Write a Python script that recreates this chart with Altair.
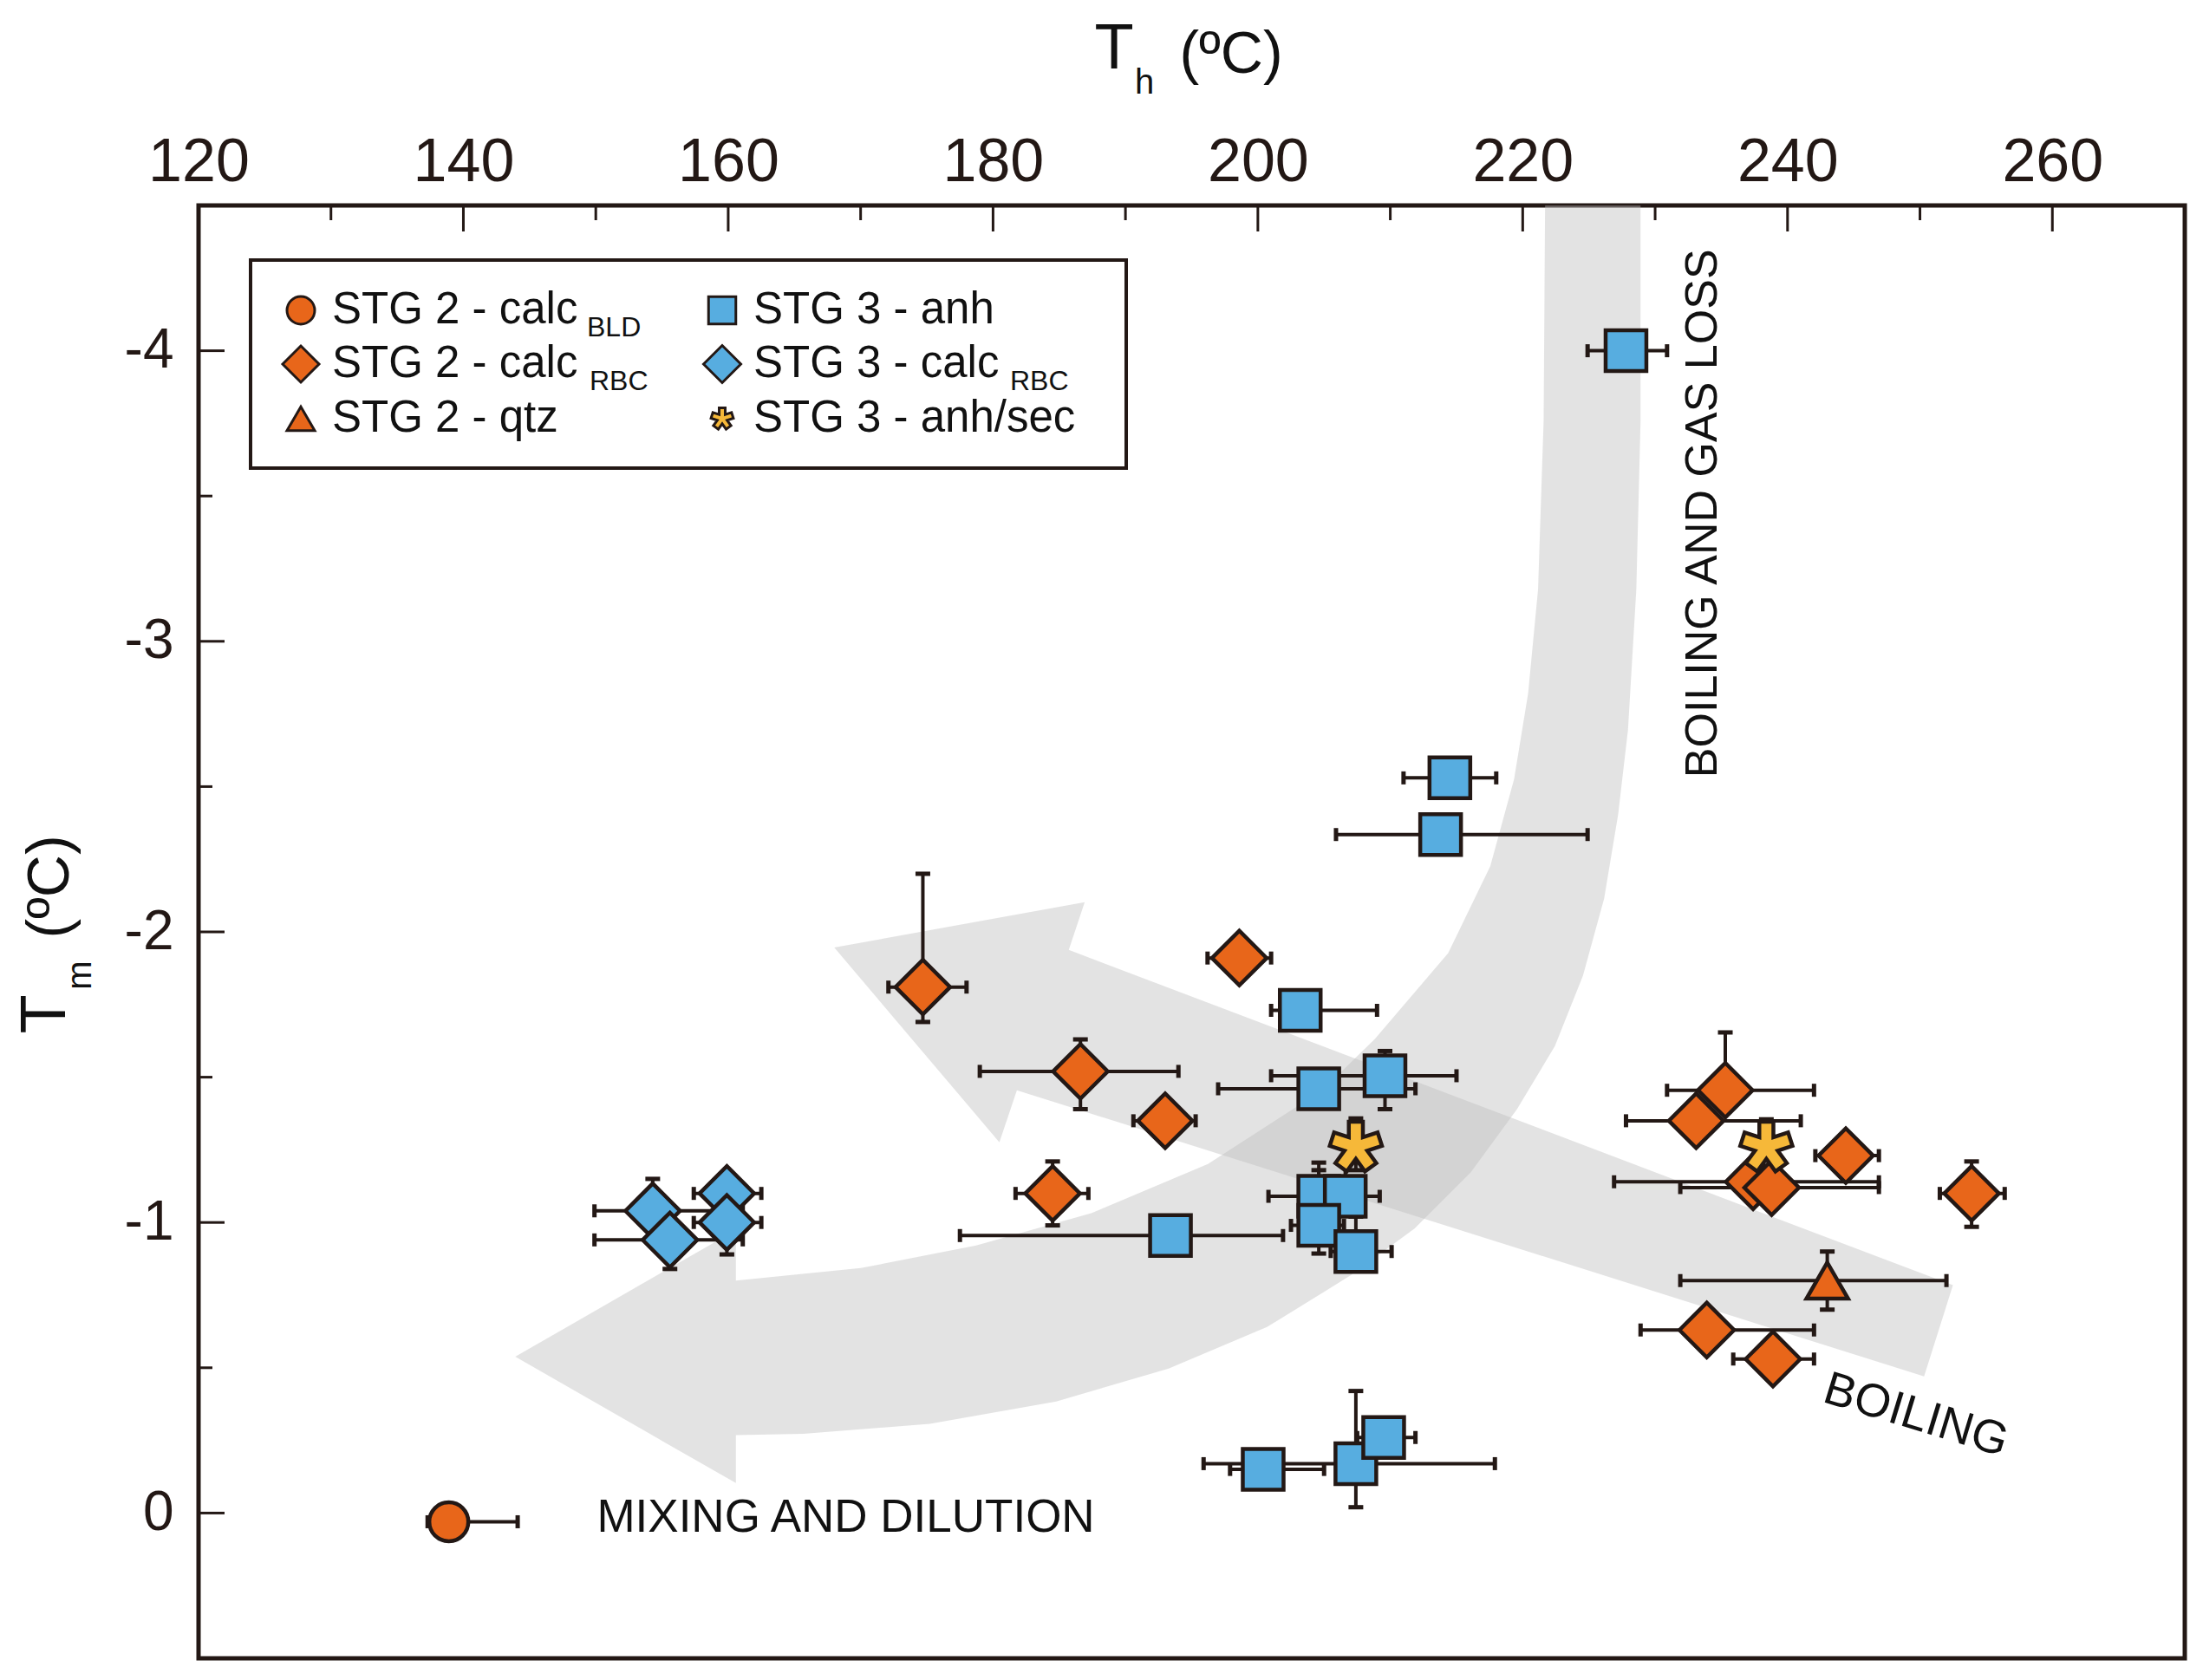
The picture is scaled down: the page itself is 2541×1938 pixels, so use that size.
import math
import altair as alt
import pandas as pd

FONT = "Liberation Sans"
DARK = "#231815"
ORANGE = "#E8661A"
BLUE = "#57ADE0"
GOLD = "#F6B839"
ARROW = "#bcbcbc"
nan = float("nan")

# ---------------- axis ticks ----------------
x_labels = [120, 140, 160, 180, 200, 220, 240, 260]
x_minor = [130, 150, 170, 190, 210, 230, 250]
y_labels = [-4, -3, -2, -1, 0]
y_minor = [-3.5, -2.5, -1.5, -0.5]

# ---------------- data (Th, Tm, error-bar ends) ----------------
# STG 2 - calc RBC (orange diamonds)
s2r_th    = [174.7, 186.6, 193.0, 198.6, 184.5, 235.3, 233.1, 237.4, 238.8, 244.4, 253.9, 233.9, 238.9]
s2r_tm    = [-1.81, -1.52, -1.35, -1.91, -1.10, -1.455, -1.35, -1.14, -1.12, -1.23, -1.10, -0.63, -0.53]
s2r_thlo  = [172.1, 179.0, 190.6, 196.2, 181.7, 230.9, 227.8, 226.9, 231.9, 242.1, 251.5, 228.9, 235.9]
s2r_thhi  = [178.0, 194.0, 195.3, 201.0, 187.2, 242.0, 241.0, 246.9, 246.9, 246.9, 256.4, 242.0, 242.0]
s2r_tmmin = [-2.20, -1.63, nan, nan, -1.21, -1.654, nan, nan, nan, nan, -1.21, nan, nan]
s2r_tmmax = [-1.69, -1.39, nan, nan, -0.99, nan, nan, nan, nan, nan, -0.985, nan, nan]

# STG 2 - qtz (orange triangle)
s2q_th, s2q_tm = [243.0], [-0.80]
s2q_thlo, s2q_thhi = [231.9], [252.0]
s2q_tmmin, s2q_tmmax = [-0.90], [-0.70]

# STG 2 - calc BLD (orange circle)
s2b_th, s2b_tm = [138.9], [0.03]
s2b_thlo, s2b_thhi = [137.3], [144.1]
s2b_tmmin, s2b_tmmax = [nan], [nan]

# STG 3 - anh (blue squares)
s3a_th    = [227.8, 214.5, 213.8, 203.2, 204.6, 209.6, 193.4, 204.6, 206.6, 204.6, 207.4, 200.4, 207.4, 209.5]
s3a_tm    = [-4.00, -2.53, -2.335, -1.73, -1.46, -1.505, -0.955, -1.09, -1.09, -0.99, -0.90, -0.15, -0.17, -0.26]
s3a_thlo  = [224.9, 211.0, 205.9, 201.0, 197.0, 201.0, 177.5, 200.8, 203.9, 202.5, 205.5, 197.9, 195.9, 207.5]
s3a_thhi  = [230.9, 218.0, 224.9, 209.0, 211.9, 215.0, 201.9, 207.5, 209.2, 206.5, 210.1, 205.0, 217.9, 211.9]
s3a_tmmin = [nan, nan, nan, nan, nan, -1.59, nan, -1.206, -1.276, -1.18, -1.02, nan, -0.42, nan]
s3a_tmmax = [nan, nan, nan, nan, nan, -1.39, nan, -0.943, nan, -0.893, nan, nan, -0.02, nan]

# STG 3 - calc RBC (blue diamonds)
s3r_th    = [154.3, 155.6, 159.9, 159.9]
s3r_tm    = [-1.04, -0.94, -1.10, -1.00]
s3r_thlo  = [149.9, 149.9, 157.4, 157.4]
s3r_thhi  = [161.1, 161.1, 162.5, 162.5]
s3r_tmmin = [-1.15, nan, nan, -1.10]
s3r_tmmax = [nan, -0.84, nan, -0.89]

# STG 3 - anh/sec (gold stars)
s3s_th, s3s_tm = [207.4, 238.4], [-1.26, -1.26]
s3s_thlo, s3s_thhi = [nan, nan], [nan, nan]
s3s_tmmin, s3s_tmmax = [-1.358, -1.355], [-1.18, nan]

# ---------------- grey process arrows (outline vertices, Th / Tm) ----------------
arrow1_th = [228.90, 228.90, 228.58, 227.95, 227.21, 226.15, 224.55, 222.43, 219.57, 216.07,
             211.83, 207.05, 200.69, 193.26, 184.77, 175.22, 165.67, 160.58, 160.58, 143.92,
             160.58, 160.58, 170.02, 178.72, 187.42, 196.23, 204.92, 208.85, 214.37, 217.55,
             219.35, 220.41, 221.16, 221.58, 221.69]
arrow1_tm = [-4.50, -3.759, -3.179, -2.695, -2.405, -2.115, -1.849, -1.607, -1.390, -1.172,
             -0.979, -0.819, -0.640, -0.497, -0.384, -0.307, -0.273, -0.268, -0.103, -0.538,
             -0.974, -0.800, -0.843, -0.921, -1.032, -1.201, -1.457, -1.632, -1.927, -2.226,
             -2.526, -2.821, -3.179, -3.759, -4.50]
arrow2_th = [168.01, 186.92, 185.72, 252.49, 250.31, 181.80, 180.48]
arrow2_tm = [-1.946, -2.102, -1.938, -0.784, -0.470, -1.455, -1.276]

# ---------------- annotations ----------------
ann_text = ["BOILING AND GAS LOSS", "MIXING AND DILUTION", "BOILING"]
ann_th = [233.57, 150.08, 249.7]
ann_tm = [-3.44, 0.018, -0.335]

# ---------------- helpers ----------------
def star_path(n=5, hw=0.28):
    pts = []
    ri = hw / math.sin(math.pi / n)
    for k in range(n):
        a = math.radians(-90 + k * 360 / n)
        ca, sa = math.cos(a), math.sin(a)
        px, py = -sa, ca
        pts.append((ca - px * hw, sa - py * hw))
        pts.append((ca + px * hw, sa + py * hw))
        b = math.radians(-90 + (k + 0.5) * 360 / n)
        pts.append((math.cos(b) * ri, math.sin(b) * ri))
    return "M" + " L".join(f"{x:.3f},{y:.3f}" for x, y in pts) + " Z"

STAR = star_path()

x_scale = alt.Scale(domain=[120, 270], nice=False, zero=False)
y_scale = alt.Scale(domain=[-4.5, 0.5], nice=False, zero=False, reverse=True)
x_axis = alt.Axis(orient="top", values=x_labels, title=None, grid=False, domain=False,
                  ticks=False, tickSize=0, labelFontSize=70, labelFont=FONT, labelColor=DARK,
                  labelPadding=14, labelFlush=False, labelOverlap=False)
y_axis = alt.Axis(orient="left", values=y_labels, title=None, grid=False, domain=False,
                  ticks=False, tickSize=0, labelFontSize=64, labelFont=FONT, labelColor=DARK,
                  labelPadding=29, labelOverlap=False,
                  labelExpr="datum.value < 0 ? '-' + format(-datum.value, 'd') : format(datum.value, 'd')")

X = alt.X("th:Q", scale=x_scale, axis=x_axis)
Y = alt.Y("tm:Q", scale=y_scale, axis=y_axis)

series = [
    ("diamond", ORANGE, 3969, s2r_th, s2r_tm, s2r_thlo, s2r_thhi, s2r_tmmin, s2r_tmmax),
    ("triangle-up", ORANGE, 2304, s2q_th, s2q_tm, s2q_thlo, s2q_thhi, s2q_tmmin, s2q_tmmax),
    ("circle", ORANGE, 2025, s2b_th, s2b_tm, s2b_thlo, s2b_thhi, s2b_tmmin, s2b_tmmax),
    ("square", BLUE, 2209, s3a_th, s3a_tm, s3a_thlo, s3a_thhi, s3a_tmmin, s3a_tmmax),
    ("diamond", BLUE, 3969, s3r_th, s3r_tm, s3r_thlo, s3r_thhi, s3r_tmmin, s3r_tmmax),
    (STAR, GOLD, 3364, s3s_th, s3s_tm, s3s_thlo, s3s_thhi, s3s_tmmin, s3s_tmmax),
]

def ok(v):
    return v == v

segs, vcaps, hcaps = [], [], []
for shape, col, size, th, tm, lo, hi, mn, mx in series:
    for i in range(len(th)):
        if ok(lo[i]) and ok(hi[i]):
            segs.append(dict(th=lo[i], th2=hi[i], tm=tm[i], tm2=tm[i]))
            vcaps += [dict(th=lo[i], tm=tm[i]), dict(th=hi[i], tm=tm[i])]
        if ok(mn[i]):
            segs.append(dict(th=th[i], th2=th[i], tm=mn[i], tm2=tm[i]))
            hcaps.append(dict(th=th[i], tm=mn[i]))
        if ok(mx[i]):
            segs.append(dict(th=th[i], th2=th[i], tm=tm[i], tm2=mx[i]))
            hcaps.append(dict(th=th[i], tm=mx[i]))

layers = []

# grey arrows
arr = pd.DataFrame(
    [dict(arrow="a1", o=i, th=a, tm=b) for i, (a, b) in enumerate(zip(arrow1_th, arrow1_tm))]
    + [dict(arrow="a2", o=i, th=a, tm=b) for i, (a, b) in enumerate(zip(arrow2_th, arrow2_tm))]
)
layers.append(
    alt.Chart(arr).mark_line(fill=ARROW, stroke=ARROW, strokeWidth=0, opacity=0.42, clip=True)
    .encode(x=X, y=Y, order=alt.Order("o:Q"), detail="arrow:N")
)

# error bars
layers.append(alt.Chart(pd.DataFrame(segs)).mark_rule(color=DARK, strokeWidth=4)
              .encode(x=X, x2="th2:Q", y=Y, y2="tm2:Q"))
layers.append(alt.Chart(pd.DataFrame(vcaps)).mark_tick(orient="vertical", size=15, thickness=5, color=DARK, opacity=1)
              .encode(x=X, y=Y))
layers.append(alt.Chart(pd.DataFrame(hcaps)).mark_tick(orient="horizontal", size=17, thickness=5, color=DARK, opacity=1)
              .encode(x=X, y=Y))

# markers
for shape, col, size, th, tm, lo, hi, mn, mx in series:
    df = pd.DataFrame({"th": th, "tm": tm})
    layers.append(alt.Chart(df).mark_point(shape=shape, size=size, filled=True, fill=col,
                                           stroke=DARK, strokeWidth=4.5, opacity=1)
                  .encode(x=X, y=Y))

# annotation text (data coordinates)
ann_style = [dict(angle=270, fontSize=52, align="center"),
             dict(angle=0, fontSize=53, align="left"),
             dict(angle=17, fontSize=54, align="center")]
for t, a, b, st in zip(ann_text, ann_th, ann_tm, ann_style):
    layers.append(alt.Chart(pd.DataFrame({"th": [a], "tm": [b]}))
                  .mark_text(text=t, baseline="middle", font=FONT, color="#111111", **st)
                  .encode(x=X, y=Y))

# inward ticks
def xticks(vals, L):
    return (alt.Chart(pd.DataFrame({"th": vals})).mark_rule(color=DARK, strokeWidth=3)
            .encode(x=X, y=alt.value(0), y2=alt.value(L)))

def yticks(vals, L):
    return (alt.Chart(pd.DataFrame({"tm": vals})).mark_rule(color=DARK, strokeWidth=3)
            .encode(y=Y, x=alt.value(0), x2=alt.value(L)))

layers += [xticks(x_labels[1:], 30), xticks(x_minor, 17), yticks(y_labels, 30), yticks(y_minor, 16)]

# ---------------- pixel-placed legend and axis titles ----------------
one = pd.DataFrame({"k": [0]})

def ptext(txt, x, y, size, angle=0, align="center", baseline="middle"):
    return (alt.Chart(one).mark_text(text=txt, fontSize=size, angle=angle, align=align,
                                      baseline=baseline, font=FONT, color="#111111")
            .encode(x=alt.value(x), y=alt.value(y)))

def psym(shape, col, size, x, y):
    return (alt.Chart(one).mark_point(shape=shape, size=size, filled=True, fill=col, stroke=DARK,
                                       strokeWidth=3, opacity=1)
            .encode(x=alt.value(x), y=alt.value(y)))

layers.append(alt.Chart(one).mark_rect(fill="white", stroke=DARK, strokeWidth=4)
              .encode(x=alt.value(60), x2=alt.value(1070), y=alt.value(63), y2=alt.value(303)))

leg_rows = [121, 183, 246]
leg_items = [
    # symbol x, text x, row, shape, colour, size, label, subscript, subscript x
    (118, 154, 0, "circle", ORANGE, 1024, "STG 2 - calc", "BLD", 448),
    (118, 154, 1, "diamond", ORANGE, 1764, "STG 2 - calc", "RBC", 451),
    (118, 154, 2, "triangle-up", ORANGE, 1024, "STG 2 - qtz", None, 0),
    (604, 640, 0, "square", BLUE, 992, "STG 3 - anh", None, 0),
    (604, 640, 1, "diamond", BLUE, 1849, "STG 3 - calc", "RBC", 936),
    (604, 640, 2, STAR, GOLD, 620, "STG 3 - anh/sec", None, 0),
]
for sx, tx, r, shape, col, size, lab, sub, subx in leg_items:
    yy = leg_rows[r]
    layers.append(psym(shape, col, size, sx, yy))
    layers.append(ptext(lab, tx, yy, 51, align="left"))
    if sub:
        layers.append(ptext(sub, subx, yy + 20, 32, align="left"))

# axis titles with subscripts
layers += [
    ptext("T", 1056, -180, 74),
    ptext("h", 1091, -141, 40),
    ptext("(ºC)", 1191, -173, 68),
    ptext("T", -176, 933, 74, angle=270),
    ptext("m", -136, 888, 40, angle=270),
    ptext("(ºC)", -170, 786, 68, angle=270),
]

chart = (
    alt.layer(*layers)
    .properties(width=2291, height=1676, background="white",
                padding={"left": 8, "top": 12, "right": 10, "bottom": 10})
    .configure_view(stroke=DARK, strokeWidth=5, fill="white")
)

chart.save("out.html", embed_options={"renderer": "svg", "actions": False})
